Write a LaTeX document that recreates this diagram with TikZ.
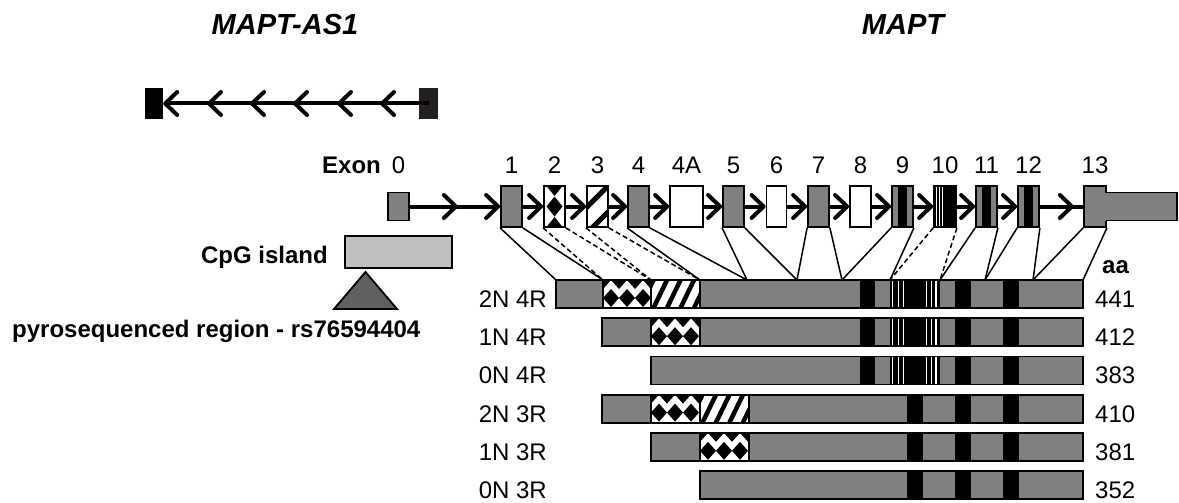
\documentclass[tikz,border=0pt]{standalone}
\usepackage{fontspec}
\setmainfont{Liberation Sans}
\usepackage{tikz}
\usetikzlibrary{arrows.meta, decorations.markings}
\definecolor{exongray}{RGB}{128,128,128}
\definecolor{cpggray}{RGB}{192,192,192}
\definecolor{pyrogray}{RGB}{96,96,96}
\definecolor{asdark}{RGB}{35,31,32}
\tikzset{chev/.tip={Straight Barb[length=12pt, width=23pt, round]}}

\begin{document}
\begin{tikzpicture}[
  x=1pt, y=-1pt,
  font=\fontsize{24}{28}\selectfont,
  lab/.style={inner sep=0pt, anchor=base},
  boldlab/.style={lab, font=\fontsize{24}{28}\selectfont\bfseries},
  title/.style={lab, font=\fontsize{29}{34}\selectfont\bfseries\itshape},
  boxline/.style={draw=black, line width=1.8pt},
  exon/.style={boxline, minimum width=21pt, minimum height=41pt, inner sep=0pt},
  exgry/.style={exon, fill=exongray},
  exwht/.style={exon, fill=white},
  exdiam/.style={exon, fill=white, path picture={
    \foreach \j in {0,1,2}
      \fill[black] (path picture bounding box.north west) ++(2.5,\j*20.5)
        -- ++(8,-10) -- ++(8,10) -- ++(-8,10) -- cycle;}},
  exstripe/.style={exon, fill=white, path picture={
    \foreach \k in {0,1}
      \draw[black, line width=5pt] (path picture bounding box.south west) ++(\k*26-25,5) -- ++(50,-50);}},
  exband/.style={exon, fill=exongray, path picture={
    \fill[black] (path picture bounding box.north west) ++(5.5,-2) rectangle ++(9,50);}},
  exten/.style={exon, fill=black, path picture={
    \foreach \d in {2.5,5,8}
      \draw[white, line width=1pt] (path picture bounding box.north west) ++(\d,-2) -- ++(0,50);}},
  gseg/.style={fill=exongray},
  kseg/.style={fill=black},
  dseg/.style={fill=white, draw, line width=1.2pt, path picture={
    \foreach \i in {0,...,3}{
      \fill[black] (path picture bounding box.north west) ++(\i*16-8,0)
        -- ++(8,-9) -- ++(8,9) -- ++(-8,9) -- cycle;
      \fill[black] (path picture bounding box.north west) ++(\i*16,18)
        -- ++(8,-9) -- ++(8,9) -- ++(-8,9) -- cycle;}}},
  sseg/.style={fill=white, draw, line width=1.2pt, path picture={
    \foreach \k in {-1,...,3}
      \draw[black, line width=4.5pt] (path picture bounding box.south west) ++(\k*13.5+1,3) -- ++(16,-33);}},
  tseg/.style={fill=black, path picture={
    \foreach \d in {2.7,8.3,13.3,36.7,41.7,46}
      \draw[white, line width=1.4pt] (path picture bounding box.north west) ++(\d,-2) -- ++(0,35);}},
  barline/.style={draw, line width=1.8pt},
  exline/.style={line width=4pt},
  link/.style={line width=1.5pt},
  linkd/.style={link, dash pattern=on 5pt off 3pt},
  chevs/.style={postaction={decorate}, decoration={markings, #1}}
]
\useasboundingbox (0,0) rectangle (1179,503);

% gene names
\node[title] (tas) at (285,35) {MAPT-AS1};
\node[title] (tmapt) at (903,35) {MAPT};

% antisense transcript
\node[fill=black, minimum width=18pt, minimum height=31pt, inner sep=0pt] (asl) at (154,103.5) {};
\node[fill=asdark, minimum width=19pt, minimum height=31pt, inner sep=0pt] (asr) at (428.5,103.5) {};
\draw[exline, -{chev}, chevs={mark=at position 48.5pt with {\arrow{chev}},
  mark=at position 91.5pt with {\arrow{chev}}, mark=at position 135.5pt with {\arrow{chev}},
  mark=at position 178.5pt with {\arrow{chev}}, mark=at position 221.5pt with {\arrow{chev}}}]
  (asr.center) -- (asl.east);

% exons
\node[boldlab, anchor=base west] (exonlab) at (322,173) {Exon};
\node[exgry, minimum height=28pt] (e0) at (398.5,206.5) {};
\node[lab] (n0) at (398.5,173) {0};
\foreach \n/\x/\w/\s in {1/511.5/21pt/exgry, 2/554.5/21pt/exdiam, 3/597.5/21pt/exstripe,
  4/638.5/21pt/exgry, 4A/686.5/33pt/exwht, 5/733.5/21pt/exgry, 6/776.5/20pt/exwht,
  7/818.5/21pt/exgry, 8/860.5/21pt/exwht, 9/902.5/21pt/exband, 10/945/22pt/exten,
  11/986.5/21pt/exband, 12/1028.5/21pt/exband, 13/1095/22pt/exgry}{
  \node[\s, minimum width=\w] (e\n) at (\x,206.5) {};
  \node[lab] (n\n) at (\x,173) {\n};
}
\fill[exongray] (1104.5,192.5) rectangle (1177,220.5);
\draw[boxline] (1105.5,192.5) -- (1177,192.5) -- (1177,220.5) -- (1105.5,220.5);

\draw[exline, -{chev}, chevs={mark=at position 48pt with {\arrow{chev}}}] (e0.east) -- (e1.west);
\foreach \a/\b in {1/2,2/3,3/4,4/4A,4A/5,5/6,6/7,7/8,8/9,9/10,10/11,11/12}
  \draw[exline, -{chev}] (e\a.east) -- (e\b.west);
\draw[exline, chevs={mark=at position 34pt with {\arrow{chev}}}] (e12.east) -- (e13.west);

% CpG island and pyrosequenced region
\node[boxline, fill=cpggray, minimum width=107pt, minimum height=32pt, inner sep=0pt] (cpg) at (398.5,252) {};
\node[boldlab, anchor=base east] (cpglab) at (328,263) {CpG island};
\filldraw[fill=pyrogray, line width=1.8pt] (334,309) -- (365.5,272) -- (397,309) -- cycle;
\node[boldlab, anchor=base west] (pyro) at (12,337) {pyrosequenced region - rs76594404};

% splicing links to 2N4R
\foreach \x in {556,603,651,700,747,797,842,890,940,985,1033,1083}
  \coordinate (j\x) at (\x,280);
\foreach \a/\b in {e1.south west/556, e1.south east/603, e4.south west/700, e4.south east/747,
  e5.south west/747, e5.south east/797, e7.south west/797, e7.south east/842,
  e9.south west/842, e9.south east/890, e11.south west/940, e11.south east/985,
  e12.south west/985, e12.south east/1033, e13.south west/1033, e13.south east/1083}
  \draw[link] (\a) -- (j\b);
\foreach \a/\b in {e2.south west/603, e2.south east/651, e3.south west/651, e3.south east/700,
  e10.south west/890, e10.south east/940}
  \draw[linkd] (\a) -- (j\b);

% isoforms
\foreach \i/\l in {0/556,1/602,2/651,3/602,4/651,5/700}
  \path[gseg] (\l,280+38.2*\i) rectangle (1083,308+38.2*\i);
\path[dseg] (603,280) rectangle (651,308);
\path[sseg] (651,280) rectangle (700,308);
\path[dseg] (651,318.2) rectangle (700,346.2);
\path[dseg] (651,394.6) rectangle (700,422.6);
\path[sseg] (700,394.6) rectangle (749,422.6);
\path[dseg] (700,432.8) rectangle (749,460.8);
\foreach \i in {0,1,2}{
  \foreach \a/\b in {860/875,955/971,1003/1019}
    \path[kseg] (\a,280+38.2*\i) rectangle (\b,308+38.2*\i);
  \path[tseg] (890,280+38.2*\i) rectangle (940,308+38.2*\i);
}
\foreach \i in {3,4,5}
  \foreach \a/\b in {907/923,955/971,1003/1019}
    \path[kseg] (\a,280+38.2*\i) rectangle (\b,308+38.2*\i);
\foreach \i/\l/\iso/\aa in {0/556/2N 4R/441, 1/602/1N 4R/412, 2/651/0N 4R/383,
  3/602/2N 3R/410, 4/651/1N 3R/381, 5/700/0N 3R/352}{
  \draw[barline] (\l,280+38.2*\i) rectangle (1083,308+38.2*\i);
  \node[lab, anchor=base east] (iso\i) at (547,307.5+38.2*\i) {\iso};
  \node[lab, anchor=base west] (aa\i) at (1095,307.5+38.2*\i) {\aa};
}
\node[boldlab, anchor=base west] (aalab) at (1102,273) {aa};
\end{tikzpicture}
\end{document}
